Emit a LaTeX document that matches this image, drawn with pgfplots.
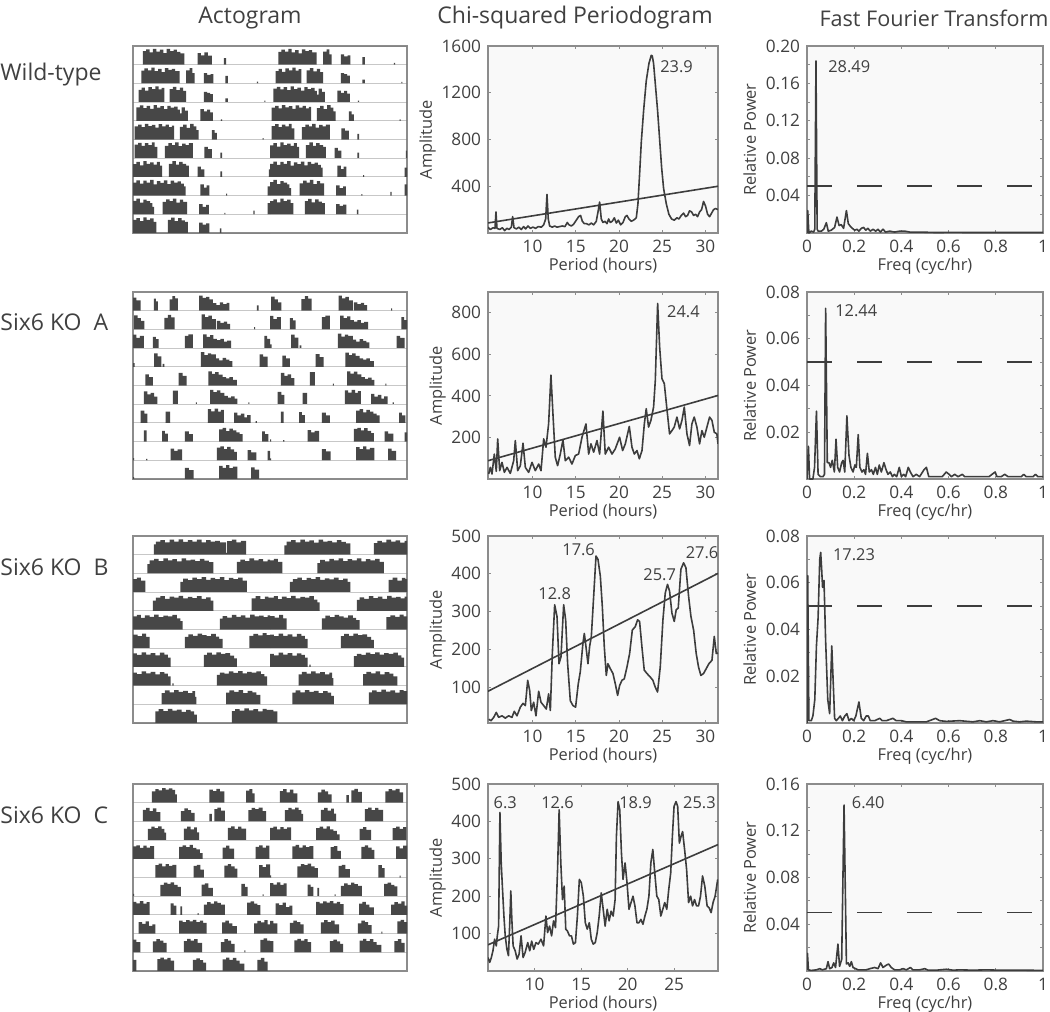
\documentclass[border=0pt]{standalone}
\usepackage{fontspec}
\setmainfont{Open Sans}
\usepackage{pgfplots}
\pgfplotsset{compat=1.18}

\definecolor{ink}{HTML}{404040}
\definecolor{frame}{HTML}{8C8C8C}
\definecolor{bg}{HTML}{F9F9F9}
\definecolor{curv}{HTML}{3D3D3D}
\definecolor{barc}{HTML}{474747}
\definecolor{gridc}{HTML}{DADADA}

\newcommand\tfont{\fontsize{11.5}{13}\selectfont}
\newcommand\sfont{\fontsize{8.2}{9.5}\selectfont}
\newcommand\kfont{\fontsize{8.6}{9.5}\selectfont}

\tikzset{lab/.style={font=\sfont, text=ink, inner sep=1pt}}

\pgfplotsset{
 base/.style={
   scale only axis, height=93.5pt, anchor=north west,
   axis line style={draw=frame, line width=0.6pt},
   tick style={draw=frame, line width=0.5pt},
   tick align=inside, major tick length=1.6pt, minor tick length=1.6pt,
   ticklabel style={font=\kfont, text=ink},
   label style={font=\sfont, text=ink},
   xlabel style={yshift=4pt},
   scaled ticks=false,
   /pgf/number format/assume math mode=true,
   /pgf/number format/1000 sep={},
   axis background/.style={fill=bg},
 },
 curve/.style={draw=curv, line width=0.8pt, mark=none, line join=round},
 perio/.style={base, width=115pt, xtick={10,15,20,25,30}, xmin=4.85, xmax=31.45,
   xlabel={Period (hours)}, ylabel={Amplitude}, ylabel shift=-4pt},
 fft/.style={base, width=118pt, xmin=0, xmax=1, ymin=0,
   xtick={0,0.2,0.4,0.6,0.8,1}, xticklabels={0,0.2,0.4,0.6,0.8,1},
   xlabel={Freq (cyc/hr)}, ylabel={Relative Power}, ylabel shift=-2pt},
 acto/.style={scale only axis, width=137pt, height=93.5pt, anchor=north west,
   xmin=0, xmax=48, ymin=0, ymax=10, xtick=\empty, ytick={1,2,3,4,5,6,7,8,9},
   yticklabels={}, major tick length=0pt, ymajorgrids,
   grid style={draw=gridc, line width=0.5pt},
   axis line style={draw=frame, line width=0.6pt}},
 actofill/.style={fill=barc, draw=none, const plot, mark=none},
}

% one day of activity: left half of row #1, right half of row #1-1
\newcommand\actoday[2]{%
  \addplot[actofill, y filter/.expression={y+10-#1}] coordinates {#2};
  \addplot[actofill, x filter/.expression={x+24}, y filter/.expression={y+11-#1}] coordinates {#2};
}

\begin{document}
\begin{tikzpicture}
\useasboundingbox (0,0) rectangle (525pt,-506pt);

% column titles and row labels
\node[font=\tfont, text=ink] at (125pt,-9pt) {Actogram};
\node[font=\tfont, text=ink] at (287.5pt,-9pt) {Chi-squared Periodogram};
\node[font=\fontsize{10.8}{13}\selectfont, text=ink, anchor=east, inner sep=0.5pt] at (525pt,-9pt) {Fast Fourier Transform};
\node[font=\tfont, text=ink, anchor=west, inner sep=0pt] at (0pt,-37.5pt) {Wild-type};
\node[font=\tfont, text=ink, anchor=west, inner sep=0pt] at (0pt,-161pt) {Six6 KO\ \ A};
\node[font=\tfont, text=ink, anchor=west, inner sep=0pt] at (0pt,-283.5pt) {Six6 KO\ \ B};
\node[font=\tfont, text=ink, anchor=west, inner sep=0pt] at (0pt,-407.5pt) {Six6 KO\ \ C};

%================ ROW 1: Wild-type =================
\begin{axis}[acto, at={(66.5pt,-23pt)}]
\actoday{1}{(0,0) (1.75,.72) (2.3,.82) (2.9,.66) (3.5,.84) (4.1,.7) (4.7,.8) (5.3,.62) (5.9,.85) (6.5,.72) (7.1,.8) (7.7,.68) (8.3,.6) (9.0,0) (11.3,.62) (11.9,.5) (12.5,.66) (13.1,.48) (13.8,0) (15.9,.35) (16.3,0) (24,0)}
\actoday{2}{(0,0) (1.45,.68) (2.0,.8) (2.6,.7) (3.2,.84) (3.8,.66) (4.4,.78) (5.0,.6) (5.6,.82) (6.2,.72) (6.8,.78) (7.4,.66) (8.15,0) (9.3,.7) (9.9,.82) (10.4,.55) (10.8,0) (12.4,.55) (13.0,.45) (13.6,.5) (14.1,0) (16.2,.4) (16.6,0) (21.7,.1) (21.9,0) (24,0)}
\actoday{3}{(0,0) (1.0,.66) (1.5,.78) (2.1,.62) (2.7,.8) (3.3,.7) (3.9,.84) (4.5,.68) (5.0,.76) (5.5,0) (6.4,.7) (7.0,.82) (7.6,.64) (8.2,.78) (8.8,.6) (9.3,0) (12.4,.55) (13.0,.5) (13.5,.42) (14.0,0) (16.2,.2) (16.6,0) (23.0,.08) (23.2,0) (24,0)}
\actoday{4}{(0,0) (0.6,.72) (1.2,.82) (1.8,.68) (2.4,.8) (3.0,.64) (3.6,.84) (4.2,.7) (4.8,.78) (5.4,.62) (6.0,.8) (6.6,.7) (7.2,.76) (7.8,.6) (8.2,.4) (8.5,.72) (9.1,.55) (9.6,0) (11.8,.62) (12.4,.5) (13.0,.6) (13.5,.45) (14.0,0) (15.4,.08) (15.6,0) (24,0)}
\actoday{5}{(0,0) (0.3,.7) (0.9,.8) (1.5,.66) (2.1,.84) (2.7,.72) (3.3,.78) (3.9,.64) (4.5,.82) (5.1,.7) (5.7,.8) (6.3,.66) (6.8,.74) (7.2,0) (8.2,.68) (8.8,.8) (9.4,.62) (10.0,.84) (10.6,.7) (11.1,.5) (11.5,0) (13.8,.5) (14.3,.35) (14.7,0) (22.7,.08) (22.9,0) (24,0)}
\actoday{6}{(0,0) (0.3,.72) (0.9,.82) (1.5,.66) (2.1,.8) (2.7,.7) (3.3,.84) (3.8,.6) (4.25,0) (5.6,.66) (6.2,.8) (6.8,.7) (7.4,.84) (8.0,.64) (8.6,.78) (9.2,.7) (9.8,.8) (10.5,0) (12.5,.6) (13.1,.48) (13.8,0) (15.3,.3) (15.6,0) (24,0)}
\actoday{7}{(0,0) (0,.68) (0.6,.8) (1.2,.62) (1.8,.84) (2.4,.7) (3.0,.78) (3.6,.66) (4.2,.8) (4.7,.6) (5.1,0) (6.3,.7) (6.9,.84) (7.5,.66) (8.1,.8) (8.7,.7) (9.3,.6) (9.8,0) (11.3,.55) (11.9,.4) (12.5,0) (15.3,.3) (15.6,0) (23.8,.4) (24,0)}
\actoday{8}{(0,0) (0,.7) (0.6,.82) (1.2,.64) (1.8,.8) (2.4,.7) (3.0,.84) (3.6,.6) (4.2,.78) (4.8,.68) (5.4,.82) (6.0,.62) (6.6,.8) (7.2,.7) (7.8,.76) (8.4,.64) (8.9,.5) (9.2,0) (11.8,.6) (12.4,.42) (12.9,.55) (13.4,0) (16.3,.1) (16.5,0) (23.6,.5) (24,0)}
\actoday{9}{(0,0) (0,.72) (0.6,.84) (1.2,.62) (1.8,.78) (2.4,.7) (3.0,.6) (3.4,.4) (3.7,0) (5.2,.66) (5.8,.8) (6.4,.7) (7.0,.84) (7.6,.62) (8.2,.78) (8.8,.66) (9.5,0) (11.6,.55) (12.2,.4) (12.8,.5) (13.3,0) (16.0,.08) (16.2,0) (21.1,.2) (21.3,0) (23.6,.6) (24,0)}
\actoday{10}{(0,0) (0,.7) (0.6,.8) (1.2,.64) (1.8,.84) (2.4,.7) (3.0,.78) (3.6,.6) (4.1,0) (6.1,.7) (6.7,.82) (7.3,.64) (7.9,.8) (8.5,.68) (9.1,.6) (9.6,0) (11.6,.55) (12.2,.45) (12.8,.52) (13.4,0) (15.2,.25) (15.5,0) (24,0)}
\end{axis}

\begin{axis}[perio, at={(244pt,-23pt)}, ymin=0, ymax=1600, ytick={400,800,1200,1600}]
\addplot[curve] coordinates {(4.85,50) (5.12,30) (5.43,45) (5.66,40) (5.77,180) (5.89,40) (6.20,30) (6.51,45) (6.78,20) (7.05,40) (7.28,30) (7.55,50) (7.70,140) (7.86,45) (8.13,35) (8.43,50) (8.70,30) (8.97,55) (9.20,35) (9.47,60) (9.74,40) (10.05,50) (10.36,40) (10.67,55) (11.02,50) (11.29,70) (11.52,120) (11.67,330) (11.82,120) (11.98,60) (12.29,50) (12.56,60) (12.83,50) (13.14,55) (13.44,60) (13.75,55) (14.02,90) (14.21,70) (14.48,60) (14.75,75) (15.06,110) (15.33,140) (15.56,150) (15.76,100) (15.99,80) (16.22,80) (16.53,70) (16.80,85) (17.07,70) (17.37,100) (17.57,180) (17.76,265) (17.95,120) (18.14,90) (18.38,100) (18.61,80) (18.80,120) (18.99,90) (19.22,100) (19.46,130) (19.69,85) (19.92,110) (20.19,70) (20.46,90) (20.73,140) (20.92,150) (21.15,120) (21.42,100) (21.69,110) (22.00,130) (22.19,250) (22.38,500) (22.58,780) (22.85,1050) (23.15,1300) (23.46,1450) (23.73,1520) (23.85,1515) (24.00,1450) (24.23,1250) (24.46,1050) (24.70,800) (24.93,560) (25.16,380) (25.47,250) (25.77,160) (26.08,120) (26.39,110) (26.70,130) (26.93,120) (27.20,150) (27.47,170) (27.70,140) (27.93,150) (28.16,190) (28.40,180) (28.63,150) (28.86,160) (29.09,140) (29.32,180) (29.55,200) (29.78,270) (30.01,230) (30.25,160) (30.48,140) (30.71,170) (30.94,200) (31.17,210) (31.44,200)};
\addplot[curve] coordinates {(4.85,86) (31.45,400)};
\node[lab, anchor=west] at (axis cs:24.5,1420) {23.9};
\end{axis}

\begin{axis}[fft, at={(403.5pt,-23pt)}, ymax=0.2, ytick={0.04,0.08,0.12,0.16,0.20}, yticklabels={0.04,0.08,0.12,0.16,0.20}, minor ytick={0.02,0.06,0.10,0.14,0.18}]
\addplot[curve] coordinates {(0,0) (0.003,0.024) (0.008,0.0) (0.018,0.002) (0.028,0.001) (0.033,0.004) (0.038,0.184) (0.043,0.004) (0.047,0.002) (0.061,0.002) (0.071,0.004) (0.082,0.011) (0.090,0.002) (0.103,0.003) (0.117,0.006) (0.127,0.017) (0.136,0.008) (0.145,0.009) (0.155,0.005) (0.167,0.024) (0.175,0.010) (0.184,0.007) (0.192,0.005) (0.202,0.003) (0.212,0.004) (0.220,0.002) (0.230,0.005) (0.240,0.006) (0.249,0.003) (0.258,0.005) (0.268,0.002) (0.280,0.004) (0.291,0.002) (0.301,0.004) (0.311,0.001) (0.322,0.004) (0.333,0.001) (0.350,0.002) (0.371,0.001) (0.393,0.002) (0.414,0.002) (0.435,0.001) (0.477,0.001) (0.548,0.0005) (0.619,0.0007) (0.689,0.0005) (0.760,0.0005) (0.831,0.0005) (0.901,0.0005) (1.0,0.0005)};
\addplot[curve, dash pattern=on 12.5pt off 12.5pt] coordinates {(0,0.05) (1,0.05)};
\node[lab, anchor=west] at (axis cs:0.08,0.178) {28.49};
\end{axis}

%================ ROW 2: Six6 KO A =================
\begin{axis}[acto, at={(66.5pt,-146pt)}]
\actoday{1}{(0,0) (0,.7) (0.6,.55) (1.34,0) (3.66,.65) (4.0,.5) (4.36,0) (6.4,.6) (6.9,.78) (7.4,.66) (7.85,0) (11.6,.8) (12.2,.68) (12.8,.74) (13.4,.6) (14.0,.4) (14.6,.3) (15.2,.45) (15.8,.35) (16.4,.42) (16.9,0) (21.7,.28) (22.0,0) (24,0)}
\actoday{2}{(0,0) (0.2,.75) (0.8,.6) (1.4,.45) (2.0,0) (5.5,.62) (6.1,.78) (6.7,.64) (7.3,0) (12.0,.8) (12.6,.66) (13.2,.74) (13.8,.55) (14.5,0) (14.7,.45) (15.3,.35) (15.9,.42) (16.5,.3) (17.0,0) (21.2,.12) (21.4,0) (24,0)}
\actoday{3}{(0,0) (0,.72) (0.6,.55) (1.2,.66) (1.9,0) (3.5,.6) (4.0,.48) (4.5,0) (9.1,.66) (9.7,.74) (10.5,0) (12.3,.74) (12.9,.6) (13.5,.7) (14.1,.5) (14.7,.42) (15.3,.5) (15.9,.35) (16.5,.4) (17.2,0) (23.0,.65) (23.5,.5) (24,0)}
\actoday{4}{(0,0) (0,.2) (0.3,0) (3.7,.72) (4.3,.56) (4.95,0) (5.2,.15) (5.5,0) (11.9,.78) (12.5,.62) (13.1,.72) (13.7,.66) (14.5,.45) (15.1,.35) (15.7,.48) (16.3,.38) (16.9,.3) (17.4,0) (22.2,.66) (22.8,.55) (23.6,0) (24,0)}
\actoday{5}{(0,0) (2.15,.6) (2.8,.45) (3.5,0) (8.0,.68) (8.7,.52) (9.4,0) (13.2,.76) (13.8,.62) (14.4,.72) (15.0,.58) (15.7,.45) (16.3,.38) (16.9,.45) (17.5,.3) (18.2,0) (24,0)}
\actoday{6}{(0,0) (1.9,.68) (2.5,.52) (3.1,.6) (3.7,.4) (4.25,0) (7.0,.72) (7.85,0) (11.0,.1) (11.2,0) (13.5,.76) (14.1,.64) (14.7,.74) (15.3,.6) (16.0,.45) (16.6,.35) (17.2,.42) (17.8,.3) (18.3,0) (20.2,.1) (20.4,0) (24,0)}
\actoday{7}{(0,0) (1.35,.66) (2.0,.5) (2.5,0) (5.7,.6) (6.5,0) (13.1,.74) (13.7,.62) (14.3,.76) (14.9,.6) (15.4,.7) (15.9,0) (17.7,.55) (18.3,.4) (18.9,.5) (19.5,.3) (20.0,.42) (20.6,0) (21.5,.1) (21.7,0) (24,0)}
\actoday{8}{(0,0) (1.9,.6) (2.4,0) (5.1,.58) (5.6,.42) (6.1,0) (9.1,.55) (9.8,.4) (10.5,0) (15.1,.66) (15.7,.74) (16.3,.56) (16.9,.7) (17.5,.6) (18.1,.5) (18.7,.4) (19.2,0) (22.6,.55) (23.1,.4) (23.7,0) (24,0)}
\actoday{9}{(0,0) (0,.12) (0.2,0) (2.3,.08) (2.5,0) (6.6,.62) (7.2,.5) (7.8,.58) (8.6,0) (14.7,.68) (15.3,.74) (15.9,.6) (16.5,.72) (17.1,.58) (17.7,.45) (18.2,0) (20.1,.55) (20.7,.42) (21.6,0) (23.6,.5) (24,0)}
\actoday{10}{(0,0) (0,.1) (0.2,0) (9.1,.6) (9.8,.48) (10.6,0) (15.1,.7) (15.7,.6) (16.3,.74) (16.9,.58) (17.5,.66) (18.3,0) (20.7,.62) (21.3,.5) (22.1,0) (24,0)}
\end{axis}

\begin{axis}[perio, at={(244pt,-146pt)}, ymin=0, ymax=900, ytick={200,400,600,800}]
\addplot[curve] coordinates {(4.93,24) (5.12,56) (5.31,24) (5.58,120) (5.81,37) (5.97,193) (6.20,40) (6.47,80) (6.74,32) (7.05,56) (7.43,27) (7.82,88) (8.01,185) (8.28,40) (8.59,64) (8.90,172) (9.17,56) (9.55,32) (9.94,80) (10.32,40) (10.71,72) (10.98,40) (11.29,193) (11.56,153) (11.86,265) (12.13,500) (12.36,314) (12.63,105) (12.90,64) (13.21,120) (13.52,188) (13.79,88) (14.18,105) (14.56,72) (14.95,113) (15.33,120) (15.72,201) (16.18,265) (16.49,120) (16.76,169) (17.07,129) (17.45,185) (17.76,120) (18.14,327) (18.41,120) (18.80,153) (19.19,120) (19.57,145) (20.07,201) (20.42,137) (20.73,169) (21.19,253) (21.50,153) (21.77,120) (22.08,137) (22.35,97) (22.66,137) (22.93,265) (23.15,338) (23.42,250) (23.69,282) (24.00,346) (24.20,475) (24.47,845) (24.70,636) (24.97,483) (25.24,459) (25.54,338) (25.85,217) (26.12,233) (26.39,250) (26.70,298) (27.01,241) (27.28,282) (27.55,346) (27.86,217) (28.16,161) (28.43,265) (28.70,298) (29.01,250) (29.32,169) (29.59,233) (29.86,201) (30.17,250) (30.48,298) (30.75,282) (31.02,225) (31.32,217) (31.45,169)};
\addplot[curve] coordinates {(4.85,88) (31.45,402)};
\node[lab, anchor=west] at (axis cs:25.3,805) {24.4};
\end{axis}

\begin{axis}[fft, at={(403.5pt,-146pt)}, ymax=0.08, ytick={0.02,0.04,0.06,0.08}, yticklabels={0.02,0.04,0.06,0.08}, minor ytick={0.01,0.03,0.05,0.07}]
\addplot[curve] coordinates {(0,0) (0.006,0.014) (0.011,0.0) (0.025,0.0) (0.032,0.005) (0.040,0.029) (0.047,0.002) (0.057,0.001) (0.068,0.001) (0.074,0.002) (0.079,0.073) (0.086,0.007) (0.093,0.007) (0.100,0.005) (0.107,0.008) (0.116,0.003) (0.123,0.017) (0.130,0.005) (0.138,0.003) (0.147,0.007) (0.153,0.008) (0.160,0.003) (0.169,0.027) (0.178,0.010) (0.186,0.005) (0.195,0.003) (0.203,0.006) (0.209,0.005) (0.217,0.019) (0.224,0.005) (0.233,0.003) (0.241,0.004) (0.248,0.002) (0.256,0.011) (0.264,0.003) (0.273,0.004) (0.281,0.002) (0.290,0.005) (0.298,0.002) (0.306,0.006) (0.315,0.003) (0.326,0.007) (0.335,0.004) (0.343,0.002) (0.353,0.003) (0.362,0.001) (0.370,0.002) (0.380,0.001) (0.391,0.005) (0.400,0.001) (0.410,0.002) (0.418,0.001) (0.429,0.005) (0.438,0.003) (0.449,0.001) (0.463,0.002) (0.477,0.001) (0.496,0.004) (0.506,0.005) (0.516,0.001) (0.534,0.001) (0.555,0.001) (0.573,0.001) (0.590,0.003) (0.602,0.002) (0.612,0.001) (0.626,0.002) (0.640,0.001) (0.658,0.002) (0.668,0.001) (0.682,0.001) (0.703,0.001) (0.725,0.001) (0.746,0.001) (0.760,0.001) (0.771,0.001) (0.797,0.003) (0.805,0.001) (0.823,0.001) (0.838,0.002) (0.852,0.001) (0.873,0.001) (0.908,0.001) (0.918,0.002) (0.929,0.001) (0.958,0.001) (0.968,0.002) (0.979,0.001) (1.0,0.001)};
\addplot[curve, dash pattern=on 12.5pt off 12.5pt] coordinates {(0,0.05) (1,0.05)};
\node[lab, anchor=west] at (axis cs:0.11,0.0718) {12.44};
\end{axis}

%================ ROW 3: Six6 KO B =================
\begin{axis}[acto, at={(66.5pt,-268pt)}]
\actoday{1}{(0,0) (3.66,.55) (4.0,.7) (4.8,.78) (5.6,.66) (6.4,.8) (7.2,.7) (8.0,.82) (8.8,.68) (9.6,.78) (10.4,.7) (11.2,.8) (12.0,.66) (12.8,.78) (13.6,.7) (14.4,.74) (15.2,.66) (16.3,.1) (16.5,.72) (17.3,.8) (18.1,.66) (18.9,.74) (19.8,0) (24,0)}
\actoday{2}{(0,0) (2.5,.5) (2.9,.7) (3.7,.78) (4.5,.66) (5.3,.8) (6.1,.7) (6.9,.76) (7.7,.64) (8.5,.8) (9.3,.7) (10.1,.74) (10.9,.66) (11.7,.78) (12.5,.68) (13.3,.6) (14.1,0) (18.2,.62) (18.8,.74) (19.6,.66) (20.4,.8) (21.2,.7) (22.0,.76) (22.8,.64) (23.6,.74) (24,0)}
\actoday{3}{(0,0) (0,.7) (0.7,.78) (1.4,.62) (2.15,0) (8.3,.55) (8.8,.72) (9.6,.64) (10.4,.78) (11.2,.7) (12.0,.8) (12.8,.66) (13.6,.76) (14.4,.7) (15.2,.8) (16.0,.64) (16.8,.76) (17.6,.7) (18.4,.78) (19.2,.62) (19.95,0) (24,0)}
\actoday{4}{(0,0) (3.5,.55) (4.0,.7) (4.8,.78) (5.6,.64) (6.4,.76) (7.2,.7) (8.0,.8) (8.8,.66) (9.6,.74) (10.4,.68) (11.2,.78) (12.0,.64) (12.8,.72) (13.6,.55) (14.1,0) (20.8,.66) (21.5,.78) (22.3,.62) (23.1,.76) (23.7,.7) (24,0)}
\actoday{5}{(0,0) (0,.7) (0.7,.78) (1.4,.62) (2.1,.76) (2.9,.68) (3.7,.8) (4.5,.66) (5.3,.74) (6.1,.7) (6.9,.78) (7.7,.6) (8.3,.45) (8.7,0) (15.2,.58) (15.7,.72) (16.5,.64) (17.3,.78) (18.1,.68) (18.9,.76) (19.7,.64) (20.5,.8) (21.3,.7) (22.1,.74) (22.9,.66) (23.6,.76) (24,0)}
\actoday{6}{(0,0) (0,.72) (0.8,.64) (1.6,.78) (2.3,.6) (2.9,0) (9.1,.6) (9.7,.74) (10.5,.66) (11.3,.78) (12.1,.7) (12.9,.64) (13.7,.76) (14.5,.62) (15.1,.5) (15.7,0) (20.4,.66) (21.1,.76) (21.9,.68) (22.7,.8) (23.4,.7) (24,0)}
\actoday{7}{(0,0) (0,.72) (0.7,.64) (1.5,.78) (2.3,.66) (3.1,.74) (3.9,.62) (4.7,.76) (5.5,.66) (6.1,.5) (6.6,0) (12.4,.64) (13.0,.76) (13.8,.66) (14.6,.78) (15.4,.7) (16.2,.74) (17.0,.6) (17.7,.45) (18.2,0) (24,0)}
\actoday{8}{(0,0) (0,.7) (0.7,.62) (1.5,.76) (2.3,.66) (3.1,.74) (3.9,.6) (4.7,.72) (5.5,.64) (6.1,.5) (6.6,0) (6.9,.12) (7.1,0) (14.7,.58) (15.2,.7) (16.0,.64) (16.8,.76) (17.6,.68) (18.4,.78) (19.2,.66) (20.0,.74) (20.8,.7) (21.6,.76) (22.4,.62) (23.0,.5) (23.5,0) (24,0)}
\actoday{9}{(0,0) (5.0,.6) (5.6,.74) (6.4,.64) (7.2,.76) (8.0,.66) (8.8,.72) (9.6,.6) (10.4,.7) (10.9,.4) (11.1,0) (16.3,.62) (16.9,.74) (17.7,.66) (18.5,.76) (19.3,.6) (20.1,.72) (20.9,.64) (21.6,.5) (22.3,0) (24,0)}
\actoday{10}{(0,0) (3.9,.62) (4.5,.74) (5.3,.64) (6.1,.76) (6.9,.66) (7.7,.72) (8.5,.6) (9.3,.7) (10.1,.62) (10.7,.45) (11.2,0) (17.3,.64) (17.9,.74) (18.7,.66) (19.5,.78) (20.3,.68) (21.1,.74) (21.9,.62) (22.7,.76) (23.4,.7) (24,0)}
\actoday{11}{(0,0) (0,.7) (0.6,.62) (1.3,0) (24,0)}
\end{axis}

\begin{axis}[perio, at={(244pt,-268pt)}, ymin=5, ymax=500, ytick={100,200,300,400,500}]
\addplot[curve] coordinates {(4.93,15) (5.20,11) (5.51,20) (5.81,33) (6.08,20) (6.47,24) (6.85,18) (7.24,24) (7.62,20) (7.89,36) (8.20,24) (8.59,47) (8.90,57) (9.17,51) (9.44,118) (9.67,91) (9.86,38) (10.13,60) (10.40,24) (10.71,89) (10.98,60) (11.29,51) (11.59,42) (11.86,82) (12.06,38) (12.29,189) (12.56,318) (12.83,287) (13.06,162) (13.29,180) (13.60,318) (13.83,278) (14.06,162) (14.37,64) (14.68,51) (14.98,47) (15.29,109) (15.52,140) (15.83,216) (15.99,242) (16.18,207) (16.41,162) (16.60,207) (16.80,234) (17.07,340) (17.34,447) (17.57,438) (17.84,394) (18.07,314) (18.30,207) (18.53,131) (18.72,162) (18.99,149) (19.30,136) (19.57,109) (19.84,78) (20.07,104) (20.34,118) (20.61,122) (20.92,153) (21.23,189) (21.54,251) (21.88,260) (22.15,278) (22.38,274) (22.65,207) (22.92,145) (23.23,136) (23.61,127) (23.92,118) (24.19,100) (24.46,87) (24.77,153) (25.08,278) (25.35,349) (25.61,372) (25.85,354) (26.12,296) (26.39,274) (26.62,305) (26.85,309) (27.16,412) (27.47,429) (27.74,416) (28.05,340) (28.32,287) (28.63,251) (28.93,189) (29.20,153) (29.47,131) (29.78,136) (30.09,149) (30.40,162) (30.75,171) (31.02,234) (31.25,189) (31.45,190)};
\addplot[curve] coordinates {(4.85,89) (31.45,401)};
\node[lab] at (axis cs:12.56,347) {12.8};
\node[lab] at (axis cs:15.33,463) {17.6};
\node[lab] at (axis cs:24.7,398) {25.7};
\node[lab] at (axis cs:29.6,456) {27.6};
\end{axis}

\begin{axis}[fft, at={(403.5pt,-268pt)}, ymax=0.08, ytick={0.02,0.04,0.06,0.08}, yticklabels={0.02,0.04,0.06,0.08}, minor ytick={0.01,0.03,0.05,0.07}]
\addplot[curve] coordinates {(0,0) (0.003,0.063) (0.008,0.001) (0.018,0.001) (0.025,0.003) (0.033,0.010) (0.040,0.033) (0.047,0.045) (0.054,0.070) (0.058,0.073) (0.062,0.066) (0.066,0.058) (0.072,0.061) (0.079,0.035) (0.088,0.010) (0.096,0.004) (0.105,0.033) (0.112,0.015) (0.117,0.002) (0.124,0.001) (0.133,0.002) (0.141,0.003) (0.150,0.001) (0.160,0.003) (0.169,0.004) (0.178,0.001) (0.188,0.002) (0.198,0.001) (0.207,0.003) (0.220,0.009) (0.230,0.002) (0.240,0.001) (0.251,0.003) (0.260,0.003) (0.268,0.001) (0.287,0.001) (0.308,0.002) (0.319,0.001) (0.336,0.001) (0.364,0.002) (0.378,0.001) (0.400,0.001) (0.421,0.0005) (0.477,0.0005) (0.506,0.0005) (0.545,0.002) (0.562,0.001) (0.590,0.0007) (0.647,0.001) (0.703,0.0005) (0.732,0.001) (0.760,0.0005) (0.788,0.001) (0.816,0.0005) (0.859,0.0015) (0.873,0.0008) (0.901,0.0005) (0.929,0.0008) (0.972,0.0005) (1.0,0.0005)};
\addplot[curve, dash pattern=on 12.5pt off 12.5pt] coordinates {(0,0.05) (1,0.05)};
\node[lab, anchor=west] at (axis cs:0.10,0.0719) {17.23};
\end{axis}

%================ ROW 4: Six6 KO C =================
\begin{axis}[acto, at={(66.5pt,-392pt)}]
\actoday{1}{(0,0) (3.3,.6) (3.9,.72) (4.5,.66) (5.1,.78) (5.7,.7) (6.3,.76) (6.9,.68) (7.4,.45) (7.7,0) (13.4,.7) (14.0,.62) (14.6,.74) (15.2,.6) (16.0,0) (19.8,.65) (20.4,.72) (20.9,.5) (21.3,0) (24,0)}
\actoday{2}{(0,0) (1.75,.62) (2.3,.72) (2.9,.55) (3.5,.7) (4.1,.5) (4.8,0) (8.4,.55) (9.0,.7) (9.6,.6) (10.2,.45) (10.8,0) (13.4,.4) (13.8,0) (14.25,.66) (14.8,.74) (15.4,.58) (16.1,0) (20.2,.6) (20.8,.72) (21.4,.66) (22.0,.74) (22.7,.55) (23.3,0) (24,0)}
\actoday{3}{(0,0) (2.6,.6) (3.2,.72) (3.8,.64) (4.4,.74) (5.0,.6) (5.5,.4) (5.8,0) (8.9,.62) (9.5,.72) (10.1,.58) (10.7,.68) (11.2,.42) (11.6,0) (16.6,.66) (17.2,.74) (17.8,.6) (18.4,.72) (19.0,.62) (19.8,0) (24,0)}
\actoday{4}{(0,0) (0,.66) (0.6,.72) (1.2,.58) (1.8,.7) (2.4,.6) (3.0,.68) (3.7,0) (8.1,.64) (8.7,.72) (9.3,.62) (9.9,.74) (10.5,.58) (11.1,.5) (11.7,.3) (12.2,0) (15.7,.6) (16.3,.7) (16.9,.55) (17.7,0) (21.5,.64) (22.1,.72) (22.7,.6) (23.3,.7) (23.9,0) (24,0)}
\actoday{5}{(0,0) (3.9,.66) (4.5,.74) (5.1,.6) (5.7,.72) (6.3,.62) (6.9,.68) (7.6,0) (10.6,.62) (11.2,.68) (11.8,.42) (12.4,0) (16.0,.64) (16.6,.72) (17.2,.6) (17.8,.48) (18.3,0) (22.1,.66) (22.7,.56) (23.3,.7) (24,0)}
\actoday{6}{(0,0) (0,.12) (0.2,0) (4.8,.6) (5.4,.72) (6.0,.66) (6.6,.74) (7.2,.6) (7.8,.5) (8.4,0) (12.0,.62) (12.6,.68) (13.2,.45) (14.0,0) (19.0,.66) (19.6,.5) (20.1,0) (22.7,.1) (22.9,0) (24,0)}
\actoday{7}{(0,0) (0,.7) (0.6,.62) (1.2,.74) (1.8,.6) (2.4,.68) (2.9,0) (6.6,.62) (7.1,.5) (7.6,0) (8.3,.45) (8.6,0) (11.3,.1) (11.5,0) (12.4,.55) (13.0,.68) (13.6,.6) (14.2,.72) (14.8,.64) (15.4,.55) (16.1,0) (20.0,.66) (20.6,.72) (21.2,.6) (21.8,.52) (22.3,0) (24,0)}
\actoday{8}{(0,0) (1.0,.62) (1.6,.52) (2.2,.66) (2.8,.42) (3.4,.5) (3.9,0) (8.1,.7) (8.7,.62) (9.3,.72) (9.9,.66) (10.5,.74) (11.1,.62) (11.7,.7) (12.3,.58) (12.9,0) (15.6,.6) (16.2,.7) (16.8,.55) (17.4,.4) (18.2,0) (21.2,.55) (21.8,.68) (22.4,.6) (23.0,.72) (23.6,.5) (24,0)}
\actoday{9}{(0,0) (0,.68) (0.6,.55) (1.3,0) (3.5,.58) (4.1,.7) (4.7,.62) (5.3,.5) (5.9,0) (8.9,.6) (9.5,.72) (10.1,.62) (10.7,.7) (11.3,.5) (12.1,0) (15.4,.55) (16.0,.7) (16.6,.62) (17.2,.45) (17.8,0) (19.5,.1) (19.7,0) (22.3,.66) (22.9,.74) (23.5,.62) (24,0)}
\actoday{10}{(0,0) (0,.6) (0.6,0) (4.25,.64) (4.8,.72) (5.4,.62) (6.0,.7) (6.6,.55) (7.2,0) (10.5,.6) (11.1,.68) (11.7,.58) (12.3,.45) (12.8,0) (15.7,.62) (16.3,.72) (16.9,.6) (17.5,.7) (18.1,.55) (18.7,.4) (19.5,0) (21.8,.6) (22.4,.7) (23.0,.5) (23.6,0) (24,0)}
\end{axis}

\begin{axis}[perio, at={(244pt,-392pt)}, xmin=5, xmax=29.7, xtick={10,15,20,25}, ymin=0, ymax=500, ytick={100,200,300,400,500}]
\addplot[curve] coordinates {(5.00,36) (5.18,23) (5.36,36) (5.53,54) (5.71,85) (5.89,67) (6.00,94) (6.14,120) (6.28,424) (6.42,289) (6.56,218) (6.71,147) (6.85,94) (7.03,58) (7.20,41) (7.35,138) (7.45,214) (7.56,138) (7.70,67) (7.92,54) (8.13,32) (8.34,45) (8.55,94) (8.77,36) (8.98,49) (9.27,76) (9.48,54) (9.69,80) (9.91,58) (10.15,76) (10.40,72) (10.69,85) (10.97,67) (11.22,147) (11.40,103) (11.61,120) (11.83,94) (12.04,134) (12.25,116) (12.47,271) (12.64,431) (12.82,289) (13.00,191) (13.18,227) (13.35,112) (13.53,107) (13.75,94) (13.96,94) (14.17,72) (14.39,76) (14.60,147) (14.81,245) (15.02,236) (15.24,200) (15.45,129) (15.66,112) (15.88,129) (16.09,85) (16.30,72) (16.52,76) (16.73,103) (16.94,147) (17.16,209) (17.37,165) (17.58,120) (17.80,165) (18.01,134) (18.22,160) (18.44,147) (18.65,191) (18.79,360) (18.97,453) (19.15,431) (19.33,316) (19.50,245) (19.72,289) (19.93,236) (20.14,165) (20.36,183) (20.57,200) (20.78,174) (21.00,129) (21.21,129) (21.42,138) (21.64,125) (21.85,147) (22.06,165) (22.28,200) (22.49,289) (22.70,325) (22.91,262) (23.13,200) (23.34,191) (23.56,147) (23.77,165) (23.98,183) (24.20,165) (24.41,218) (24.62,262) (24.80,360) (24.98,440) (25.19,453) (25.37,440) (25.55,342) (25.73,360) (25.90,373) (26.15,316) (26.33,271) (26.54,183) (26.76,200) (26.97,174) (27.18,191) (27.40,174) (27.61,174) (27.82,200) (28.04,254) (28.28,227) (28.53,174) (28.75,169) (28.96,156) (29.17,183) (29.39,200) (29.67,245)};
\addplot[curve] coordinates {(5,70) (29.7,338)};
\node[lab] at (axis cs:6.85,449) {6.3};
\node[lab] at (axis cs:12.47,449) {12.6};
\node[lab] at (axis cs:20.85,449) {18.9};
\node[lab] at (axis cs:27.7,449) {25.3};
\end{axis}

\begin{axis}[fft, at={(403.5pt,-392pt)}, ymax=0.16, ytick={0.04,0.08,0.12,0.16}, yticklabels={0.04,0.08,0.12,0.16}, minor ytick={0.02,0.06,0.10,0.14}]
\addplot[curve] coordinates {(0,0.001) (0.002,0.015) (0.006,0.001) (0.018,0.0005) (0.040,0.001) (0.054,0.002) (0.065,0.001) (0.082,0.002) (0.089,0.008) (0.096,0.002) (0.106,0.003) (0.113,0.007) (0.121,0.003) (0.131,0.023) (0.138,0.004) (0.147,0.010) (0.157,0.142) (0.167,0.006) (0.174,0.007) (0.181,0.004) (0.188,0.008) (0.195,0.003) (0.206,0.002) (0.216,0.001) (0.237,0.001) (0.251,0.001) (0.266,0.002) (0.287,0.003) (0.301,0.002) (0.312,0.007) (0.322,0.003) (0.336,0.005) (0.346,0.006) (0.357,0.003) (0.371,0.001) (0.393,0.001) (0.407,0.002) (0.421,0.001) (0.438,0.003) (0.449,0.001) (0.477,0.001) (0.499,0.002) (0.513,0.0007) (0.548,0.0007) (0.590,0.0015) (0.619,0.0007) (0.647,0.001) (0.703,0.0007) (0.760,0.001) (0.816,0.0007) (0.873,0.0008) (0.929,0.0007) (1.0,0.0005)};
\addplot[curve, dash pattern=on 12.5pt off 12.5pt] coordinates {(0,0.05) (1,0.05)};
\node[lab, anchor=west] at (axis cs:0.18,0.144) {6.40};
\end{axis}

\end{tikzpicture}
\end{document}
